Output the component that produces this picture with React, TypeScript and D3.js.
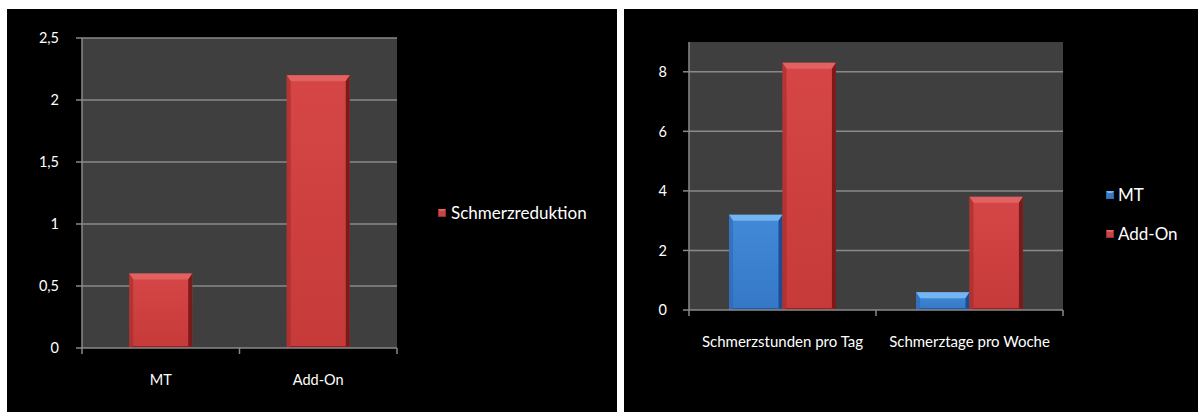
import React from "react";
import * as d3 from "d3";

// ---- Data ----
const leftCategories = ["MT", "Add-On"];
const leftSeries = ["Schmerzreduktion"];
const leftValues = [0.6, 2.2];
const leftTicks = [0, 0.5, 1, 1.5, 2, 2.5];

const rightCategories = ["Schmerzstunden pro Tag", "Schmerztage pro Woche"];
const rightSeries = ["MT", "Add-On"];
const rightMT = [3.2, 0.6];
const rightAddOn = [8.3, 3.8];
const rightTicks = [0, 2, 4, 6, 8];

const FONT = "Lato, 'Open Sans', sans-serif";
const locale = d3.formatLocale({ decimal: ",", thousands: ".", grouping: [3], currency: ["", "€"] });
const fmt = (v: number) => locale.format("~g")(v);

const GRID = "#8a8a8a";
const PLOT_BG = "#3f3f3f";

const palettes: Record<string, { main: string; light: string; top: string; dark: string; edge: string }> = {
  red: { main: "#c63a3a", light: "#d64646", top: "#e26262", dark: "#7a1a1a", edge: "#a42a2a" },
  blue: { main: "#3578c8", light: "#428ad8", top: "#74b4f0", dark: "#1e4c8e", edge: "#2d68b2" },
};

function Bar({ x, y, w, h, color }: { x: number; y: number; w: number; h: number; color: string }) {
  const p = palettes[color];
  const b = Math.min(6, h / 2);
  const s = 4;
  return (
    <g>
      <rect x={x} y={y} width={w} height={h} fill={`url(#grad-${color})`} />
      <polygon points={`${x},${y} ${x + w},${y} ${x + w - s},${y + b} ${x + s},${y + b}`} fill={p.top} />
      <polygon points={`${x},${y} ${x + s},${y + b} ${x + s},${y + h - 2} ${x},${y + h}`} fill={p.edge} opacity={0.6} />
      <polygon points={`${x + w},${y} ${x + w - s},${y + b} ${x + w - s},${y + h - 2} ${x + w},${y + h}`} fill={p.dark} />
      <polygon points={`${x},${y + h} ${x + s},${y + h - 2} ${x + w - s},${y + h - 2} ${x + w},${y + h}`} fill={p.dark} opacity={0.7} />
    </g>
  );
}

function LegendSwatch({ x, y, color }: { x: number; y: number; color: string }) {
  const p = palettes[color];
  return (
    <g>
      <rect x={x} y={y} width={8} height={8} fill={p.edge} />
      <rect x={x + 1} y={y + 1} width={6} height={6} fill={color === "red" ? "#c04848" : "#3c78c0"} />
      <polygon points={`${x},${y} ${x + 8},${y} ${x + 6},${y + 2} ${x + 2},${y + 2}`} fill={p.top} />
    </g>
  );
}

function LeftChart() {
  const x0 = 82, x1 = 397, y0 = 348, y1 = 38;
  const x = d3.scaleBand<string>().domain(leftCategories).range([x0, x1]).padding(0);
  const xs = d3.scaleBand<string>().domain(leftSeries).range([0, x.bandwidth()]).paddingInner(0).paddingOuter(0.75);
  const y = d3.scaleLinear().domain([0, 2.5]).range([y0, y1]);
  const boundaries = [x0, ...leftCategories.map((c) => (x(c) as number) + x.bandwidth())];
  return (
    <g>
      <rect x={7} y={9} width={610} height={403} fill="#000" />
      <rect x={x0} y={y1} width={x1 - x0} height={y0 - y1} fill={PLOT_BG} />
      {leftTicks.map((t) => (
        <g key={t}>
          {t > 0 && <line x1={x0} x2={x1} y1={y(t)} y2={y(t)} stroke={GRID} strokeWidth={1.5} />}
          <line x1={x0 - 6} x2={x0} y1={y(t)} y2={y(t)} stroke={GRID} strokeWidth={1.5} />
          <text x={59} y={y(t)} dy="0.36em" textAnchor="end" fill="#fff" fontSize={14.5} fontFamily={FONT}>
            {fmt(t)}
          </text>
        </g>
      ))}
      {leftCategories.map((c, i) => (
        <Bar key={c} x={(x(c) as number) + (xs(leftSeries[0]) as number)} y={y(leftValues[i])} w={xs.bandwidth()} h={y0 - y(leftValues[i])} color="red" />
      ))}
      <line x1={x0} x2={x0} y1={y1} y2={y0} stroke={GRID} strokeWidth={1.5} />
      <line x1={x0} x2={x1} y1={y0} y2={y0} stroke={GRID} strokeWidth={1.5} />
      {boundaries.map((b, i) => (
        <line key={i} x1={b} x2={b} y1={y0} y2={y0 + 6} stroke={GRID} strokeWidth={1.5} />
      ))}
      {leftCategories.map((c) => (
        <text key={c} x={(x(c) as number) + x.bandwidth() / 2} y={380} dy="0.36em" textAnchor="middle" fill="#fff" fontSize={14.5} fontFamily={FONT}>
          {c}
        </text>
      ))}
      <LegendSwatch x={438} y={209} color="red" />
      <text x={451} y={213} dy="0.36em" fill="#fff" fontSize={17} fontFamily={FONT}>
        {leftSeries[0]}
      </text>
    </g>
  );
}

function RightChart() {
  const x0 = 689, x1 = 1063, y0 = 310, y1 = 42;
  const x = d3.scaleBand<string>().domain(rightCategories).range([x0, x1]).padding(0);
  const xs = d3.scaleBand<string>().domain(rightSeries).range([0, x.bandwidth()]).paddingInner(0).paddingOuter(0.75);
  const y = d3.scaleLinear().domain([0, 9]).range([y0, y1]);
  const boundaries = [x0, ...rightCategories.map((c) => (x(c) as number) + x.bandwidth())];
  const seriesData: [string, number[], string][] = [
    [rightSeries[0], rightMT, "blue"],
    [rightSeries[1], rightAddOn, "red"],
  ];
  return (
    <g>
      <rect x={624} y={9} width={574} height={403} fill="#000" />
      <rect x={x0} y={y1} width={x1 - x0} height={y0 - y1} fill={PLOT_BG} />
      {rightTicks.map((t) => (
        <g key={t}>
          {t > 0 && <line x1={x0} x2={x1} y1={y(t)} y2={y(t)} stroke={GRID} strokeWidth={1.5} />}
          <line x1={x0 - 6} x2={x0} y1={y(t)} y2={y(t)} stroke={GRID} strokeWidth={1.5} />
          <text x={667} y={y(t)} dy="0.36em" textAnchor="end" fill="#fff" fontSize={14.5} fontFamily={FONT}>
            {fmt(t)}
          </text>
        </g>
      ))}
      {seriesData.map(([s, vals, color]) =>
        rightCategories.map((c, i) => (
          <Bar key={s + c} x={(x(c) as number) + (xs(s) as number)} y={y(vals[i])} w={xs.bandwidth()} h={y0 - y(vals[i])} color={color} />
        ))
      )}
      <line x1={x0} x2={x0} y1={y1} y2={y0} stroke={GRID} strokeWidth={1.5} />
      <line x1={x0} x2={x1} y1={y0} y2={y0} stroke={GRID} strokeWidth={1.5} />
      {boundaries.map((b, i) => (
        <line key={i} x1={b} x2={b} y1={y0} y2={y0 + 6} stroke={GRID} strokeWidth={1.5} />
      ))}
      {rightCategories.map((c) => (
        <text key={c} x={(x(c) as number) + x.bandwidth() / 2} y={342} dy="0.36em" textAnchor="middle" fill="#fff" fontSize={15} fontFamily={FONT}>
          {c}
        </text>
      ))}
      {seriesData.map(([s, , color], i) => (
        <g key={s}>
          <LegendSwatch x={1106} y={191 + i * 39} color={color} />
          <text x={1118} y={195 + i * 39} dy="0.36em" fill="#fff" fontSize={17} fontFamily={FONT}>
            {s}
          </text>
        </g>
      ))}
    </g>
  );
}

export default function App() {
  return (
    <div style={{ position: "absolute", left: 0, top: 0, width: 1198, height: 412 }}>
      <svg width={1198} height={412} style={{ display: "block" }}>
        <defs>
          {Object.entries(palettes).map(([k, p]) => (
            <linearGradient key={k} id={`grad-${k}`} x1="0" y1="0" x2="0" y2="1">
              <stop offset="0" stopColor={p.light} />
              <stop offset="1" stopColor={p.main} />
            </linearGradient>
          ))}
        </defs>
        <rect x={0} y={0} width={1198} height={412} fill="#fff" />
        <LeftChart />
        <RightChart />
      </svg>
    </div>
  );
}
